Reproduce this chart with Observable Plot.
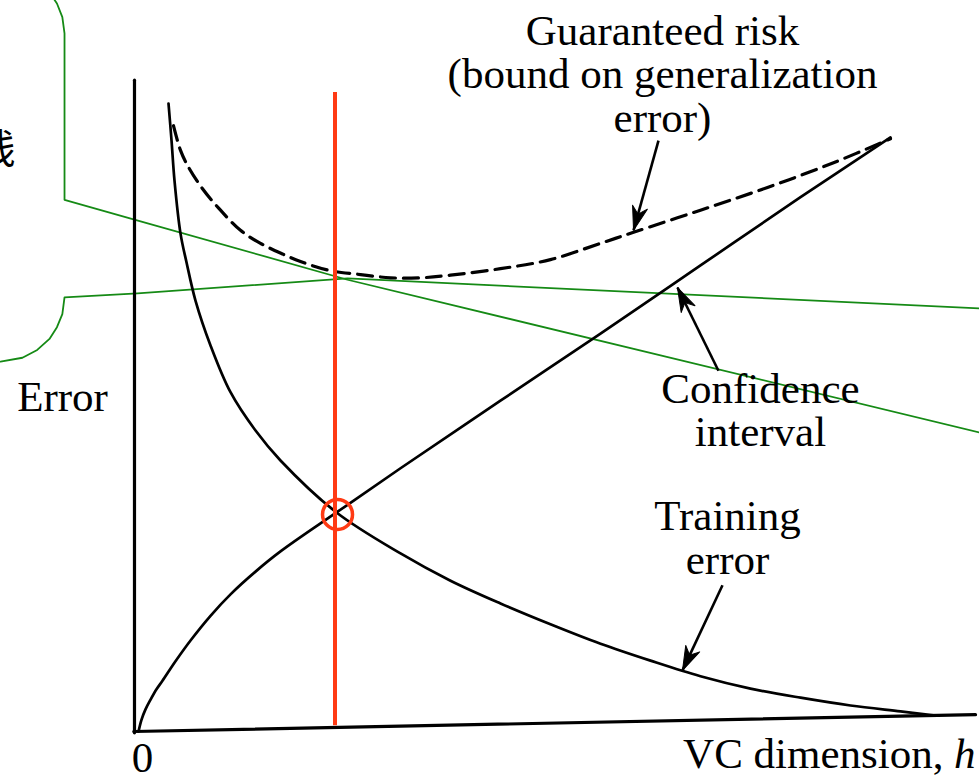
<!DOCTYPE html>
<html><head><meta charset="utf-8">
<script src="https://cdn.jsdelivr.net/npm/d3@7"></script>
<script src="https://cdn.jsdelivr.net/npm/@observablehq/plot@0.6"></script>
<style>html,body{margin:0;padding:0;background:#fff;overflow:hidden}</style>
</head><body><div id="chart"></div>
<script>
// ---- data (h = VC dimension, e = error, arbitrary units) ----
const trainH = [0.393,0.429,0.464,0.536,0.607,0.714,0.893,1.131,1.429,1.726,2.393,3.155,3.75,4.345,4.94,5.536,6.131,6.726,7.321,7.917,8.512,9.107,9.5];
const trainE = [0.966,0.909,0.848,0.766,0.722,0.663,0.594,0.522,0.463,0.417,0.337,0.274,0.232,0.197,0.165,0.135,0.109,0.085,0.066,0.052,0.040,0.031,0.025];

const confH = [0.036,0.071,0.119,0.179,0.25,0.321,0.476,0.655,0.893,1.131,1.429,1.726,2.393,3.155,4.345,5.536,6.726,7.917,8.988];
const confE = [0,0.018,0.034,0.049,0.065,0.078,0.108,0.140,0.178,0.211,0.246,0.277,0.337,0.405,0.509,0.612,0.717,0.822,0.914];

const riskH = [0.452,0.536,0.619,0.798,1.012,1.25,1.488,1.762,1.964,2.321,2.679,3.036,3.393,3.75,4.345,4.94,5.536,5.929,6.726,7.524,8.31,8.988];
const riskE = [0.932,0.894,0.871,0.835,0.802,0.771,0.751,0.734,0.723,0.709,0.703,0.698,0.698,0.702,0.712,0.726,0.751,0.768,0.802,0.837,0.875,0.912];

const calloutUpperH = [-1.607,-1.346,-1.170,-1.024,-0.935,-0.871,-0.845,-0.845,-0.024,2.524,10.048];
const calloutUpperE = [1.172,1.166,1.155,1.137,1.120,1.099,1.074,0.818,0.788,0.695,0.460];
const calloutLowerH = [-1.607,-1.346,-1.170,-1.024,-0.935,-0.871,-0.845,0.024,2.524,10.048];
const calloutLowerE = [0.569,0.575,0.587,0.604,0.622,0.642,0.668,0.674,0.697,0.651];

const yAxisH = [-0.012,-0.012];
const yAxisE = [-0.002,1.002];
const xAxisH = [-0.02,10];
const xAxisE = [0,0.026];

const optimumH = 2.375;          // chosen VC dimension (red line)
const optimumSpan = [0.009,0.983];
const crossH = 2.405, crossE = 0.334;  // training / confidence crossing

// arrows: tail and tip points
const arrowTail = [[6.226,0.909],[6.940,0.555],[6.988,0.225]];
const arrowTip  = [[5.929,0.771],[6.452,0.683],[6.512,0.094]];

const labels = ["Guaranteed risk\n(bound on generalization\nerror)","Confidence\ninterval","Training\nerror","Error","0"];
const labelH = [6.274,7.44,7.048,-0.869,0.083];
const labelE = [1.011,0.494,0.298,0.514,-0.041];
const xTitle = "VC dimension,";
const xVar = "h";
const sideChar = "线";

// ---- build tables ----
const X = {domain:[0,10], range:[135,975]};
const Y = {domain:[0,1], range:[731,81]};
const sx = Plot.scale({x:X}), sy = Plot.scale({y:Y});
const zip = (H,E) => H.map((h,i)=>({h, e:E[i]}));
const train = zip(trainH,trainE), conf = zip(confH,confE), risk = zip(riskH,riskE);
const up = zip(calloutUpperH,calloutUpperE), lo = zip(calloutLowerH,calloutLowerE);
const arrows = arrowTail.map((t,i)=>{
  const tip = arrowTip[i];
  const dx = sx.apply(tip[0]) - sx.apply(t[0]);
  const dy = sy.apply(tip[1]) - sy.apply(t[1]);
  return {x1:t[0], y1:t[1], x2:tip[0], y2:tip[1], angle: Math.atan2(dx, -dy) * 180 / Math.PI};
});
const texts = labels.map((t,i)=>({t,h:labelH[i],e:labelE[i]}));

const headShape = {
  draw(ctx, l) {
    const w = l * 0.32;
    ctx.moveTo(0, -l);
    ctx.lineTo(-w, 0);
    ctx.lineTo(0, -l * 0.3);
    ctx.lineTo(w, 0);
    ctx.closePath();
  }
};

const RED = "#ff3a14", GREEN = "#158a15";
const font = "'Liberation Serif', 'Times New Roman', serif";

const chart = Plot.plot({
  width: 979, height: 782, margin: 0,
  x: {...X, axis:null},
  y: {...Y, axis:null},
  style: {background:"#fff", fontFamily: font},
  marks: [
    Plot.line(up, {x:"h", y:"e", stroke:GREEN, strokeWidth:1.8}),
    Plot.line(lo, {x:"h", y:"e", stroke:GREEN, strokeWidth:1.8}),
    Plot.line(zip(yAxisH,yAxisE), {x:"h", y:"e", stroke:"#000", strokeWidth:3.2}),
    Plot.line(zip(xAxisH,xAxisE), {x:"h", y:"e", stroke:"#000", strokeWidth:3.2}),
    Plot.line(train, {x:"h", y:"e", stroke:"#000", strokeWidth:2.7, curve:"catmull-rom"}),
    Plot.line(conf, {x:"h", y:"e", stroke:"#000", strokeWidth:2.7, curve:"catmull-rom"}),
    Plot.line(risk, {x:"h", y:"e", stroke:"#000", strokeWidth:3.2, strokeDasharray:"15,8", curve:"catmull-rom"}),
    Plot.ruleX([optimumH], {y1:optimumSpan[0], y2:optimumSpan[1], stroke:RED, strokeWidth:4}),
    Plot.dot([{h:crossH,e:crossE}], {x:"h", y:"e", r:15, stroke:RED, strokeWidth:3.5, fill:"none"}),
    Plot.link(arrows, {x1:"x1", y1:"y1", x2:"x2", y2:"y2", stroke:"#000", strokeWidth:2.6}),
    Plot.vector(arrows, {x:"x2", y:"y2", rotate:"angle", length:24, anchor:"end", shape:headShape, fill:"#000", stroke:"#000", strokeWidth:1}),
    Plot.text(texts, {x:"h", y:"e", text:"t", fontSize:43, lineHeight:1.02, fill:"#000", textAnchor:"middle", lineAnchor:"middle"}),
    Plot.text([{h:10,e:-0.035}], {x:"h", y:"e", text:()=>xVar, fontSize:43, fontStyle:"italic", textAnchor:"end", lineAnchor:"middle", fill:"#000"}),
    Plot.text([{h:10,e:-0.035}], {x:"h", y:"e", text:()=>xTitle, fontSize:43, dx:-32, textAnchor:"end", lineAnchor:"middle", fill:"#000"}),
    Plot.text([{h:-1.667,e:0.894}], {x:"h", y:"e", text:()=>sideChar, fontSize:40, fontFamily:"'Noto Sans CJK SC'", textAnchor:"middle", lineAnchor:"middle", fill:"#000"})
  ]
});
document.getElementById("chart").appendChild(chart);
</script></body></html>
